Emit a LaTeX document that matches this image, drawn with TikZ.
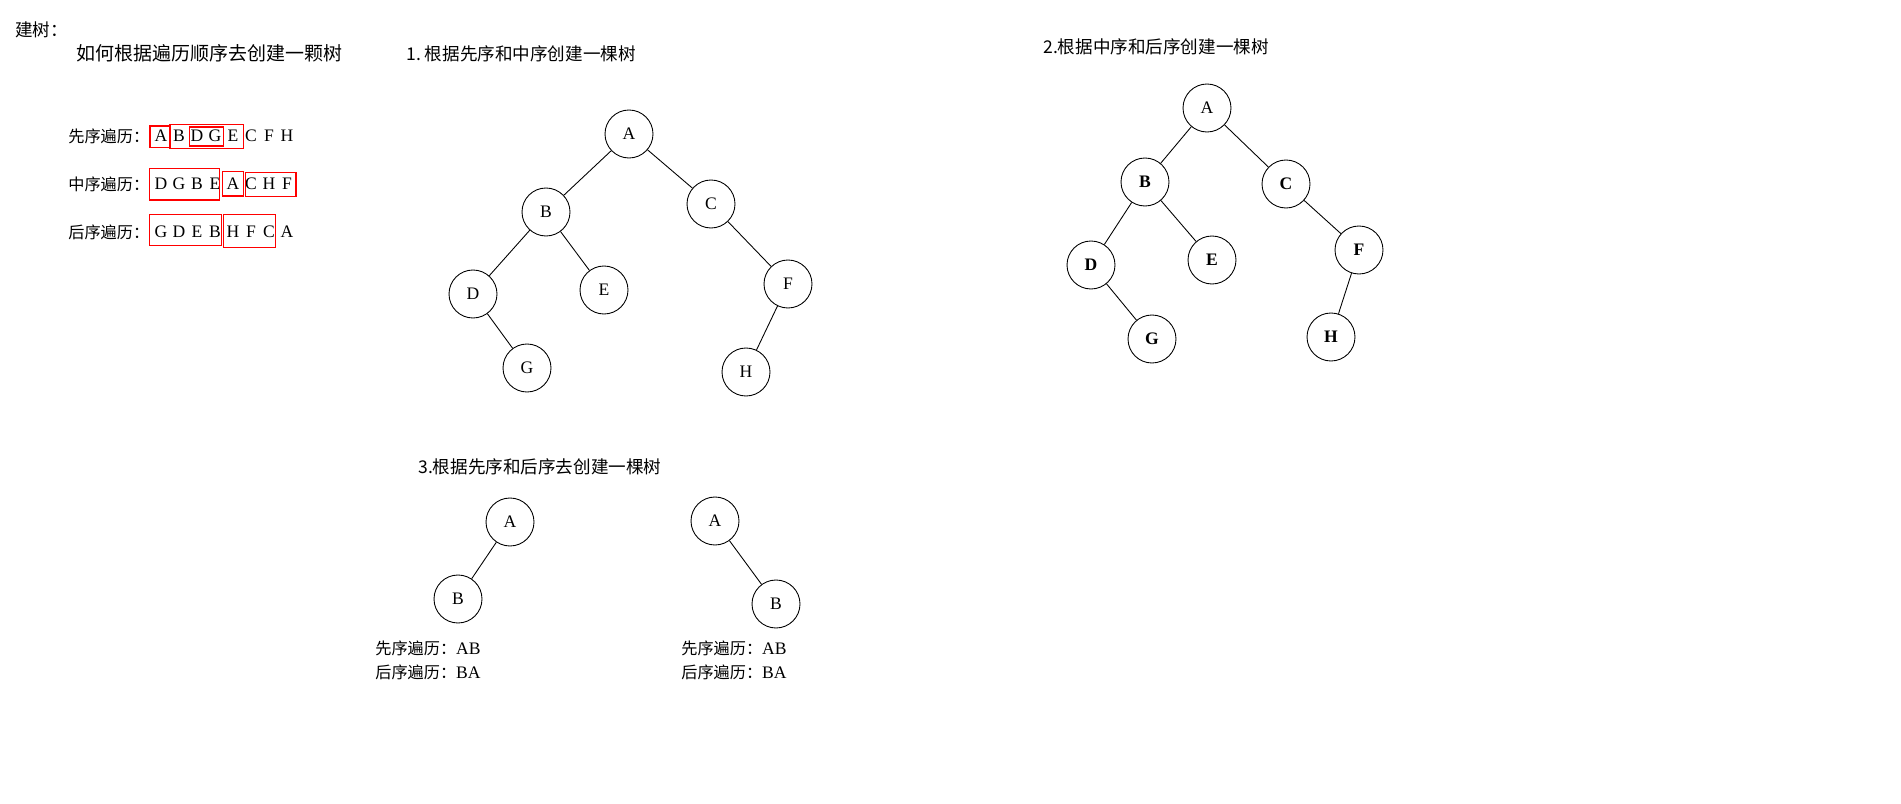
\documentclass[tikz,border=0pt]{standalone}
\usepackage{fontspec}
\setmainfont{Liberation Serif}
\newfontfamily\cjk{Noto Sans CJK SC}
\tikzset{
  tnode/.style={circle,draw,line width=0.5pt,minimum size=0.96cm,inner sep=0pt,font=\fontsize{10}{12}\selectfont},
  bnode/.style={tnode,font=\fontsize{10}{12}\selectfont\bfseries},
  edge/.style={line width=0.5pt},
  zh/.style={anchor=west,inner sep=0pt,font=\cjk\fontsize{9.2}{11}\selectfont},
  ttl/.style={anchor=west,inner sep=0pt,font=\cjk\fontsize{10}{12}\selectfont},
  ltr/.style={inner sep=0pt,font=\fontsize{10}{12}\selectfont},
  redbox/.style={draw=red,line width=0.6pt}
}
\def\seqrow#1#2#3{\foreach \c [count=\i from 0] in {#3} \node[ltr] (#1\i) at (161+18*\i,#2) {\c};}

\begin{document}
\begin{tikzpicture}[x=0.02cm,y=-0.02cm]
			%%%%% START %%%%%
			\useasboundingbox (0,0) rectangle (1901,804);
			
			\node[ttl] (head) at (15,30) {建树：};
			\node[ttl,font=\cjk\fontsize{10.8}{13}\selectfont] (ask) at (76,53) {如何根据遍历顺序去创建一颗树};
			
			\node[zh] (pre) at (68,136) {先序遍历：};
			\node[zh] (in) at (68,184) {中序遍历：};
			\node[zh] (post) at (68,232) {后序遍历：};
			\seqrow{p}{136}{A,B,D,G,E,C,F,H}
			\seqrow{m}{184}{D,G,B,E,A,C,H,F}
			\seqrow{q}{232}{G,D,E,B,H,F,C,A}
			
			\draw[redbox] (150,126) rectangle (170,147.5);
			\draw[redbox] (170,124.5) rectangle (243.5,148.5);
			\draw[redbox] (189.5,127) rectangle (223.5,146);
			\draw[redbox] (149.5,168.5) rectangle (219.5,200);
			\draw[redbox] (222.5,171.5) rectangle (243.5,196);
			\draw[redbox] (245.5,172.5) rectangle (296,196.5);
			\draw[redbox] (149.5,214.5) rectangle (221.5,245.5);
			\draw[redbox] (223.5,214.5) rectangle (275.5,247.5);
			
			% tree 1
			\node[ttl] (t1) at (406,54) {1.\ 根据先序和中序创建一棵树};
			\node[tnode] (a1) at (629,134) {A};
			\node[tnode] (b1) at (546,212) {B};
			\node[tnode] (c1) at (711,204) {C};
			\node[tnode] (d1) at (473,294) {D};
			\node[tnode] (e1) at (604,290) {E};
			\node[tnode] (f1) at (788,284) {F};
			\node[tnode] (g1) at (527,368) {G};
			\node[tnode] (h1) at (746,372) {H};
			\draw[edge] (a1) -- (b1);
			\draw[edge] (a1) -- (c1);
			\draw[edge] (b1) -- (d1);
			\draw[edge] (b1) -- (e1);
			\draw[edge] (d1) -- (g1);
			\draw[edge] (c1) -- (f1);
			\draw[edge] (f1) -- (h1);
			
			% tree 2
			\node[ttl] (t2) at (1043,47) {2.根据中序和后序创建一棵树};
			\node[tnode] (a2) at (1207,108) {A};
			\node[bnode] (b2) at (1145,182) {B};
			\node[bnode] (c2) at (1286,184) {C};
			\node[bnode] (d2) at (1091,265) {D};
			\node[bnode] (e2) at (1212,260) {E};
			\node[bnode] (f2) at (1359,250) {F};
			\node[bnode] (g2) at (1152,339) {G};
			\node[bnode] (h2) at (1331,337) {H};
			\draw[edge] (a2) -- (b2);
			\draw[edge] (a2) -- (c2);
			\draw[edge] (b2) -- (d2);
			\draw[edge] (b2) -- (e2);
			\draw[edge] (d2) -- (g2);
			\draw[edge] (c2) -- (f2);
			\draw[edge] (f2) -- (h2);
			
			% tree 3
			\node[ttl] (t3) at (418,467) {3.根据先序和后序去创建一棵树};
			\node[tnode] (a3) at (510,522) {A};
			\node[tnode] (b3) at (458,599) {B};
			\draw[edge] (a3) -- (b3);
			\node[tnode] (a4) at (715,521) {A};
			\node[tnode] (b4) at (776,604) {B};
			\draw[edge] (a4) -- (b4);
			\node[zh] (pre3) at (375,648) {先序遍历：{\rmfamily\fontsize{10}{12}\selectfont AB}};
			\node[zh] (post3) at (375,672) {后序遍历：{\rmfamily\fontsize{10}{12}\selectfont BA}};
			\node[zh] (pre4) at (681,648) {先序遍历：{\rmfamily\fontsize{10}{12}\selectfont AB}};
			\node[zh] (post4) at (681,672) {后序遍历：{\rmfamily\fontsize{10}{12}\selectfont BA}};
			%%%%% END %%%%%
\end{tikzpicture}
\end{document}
